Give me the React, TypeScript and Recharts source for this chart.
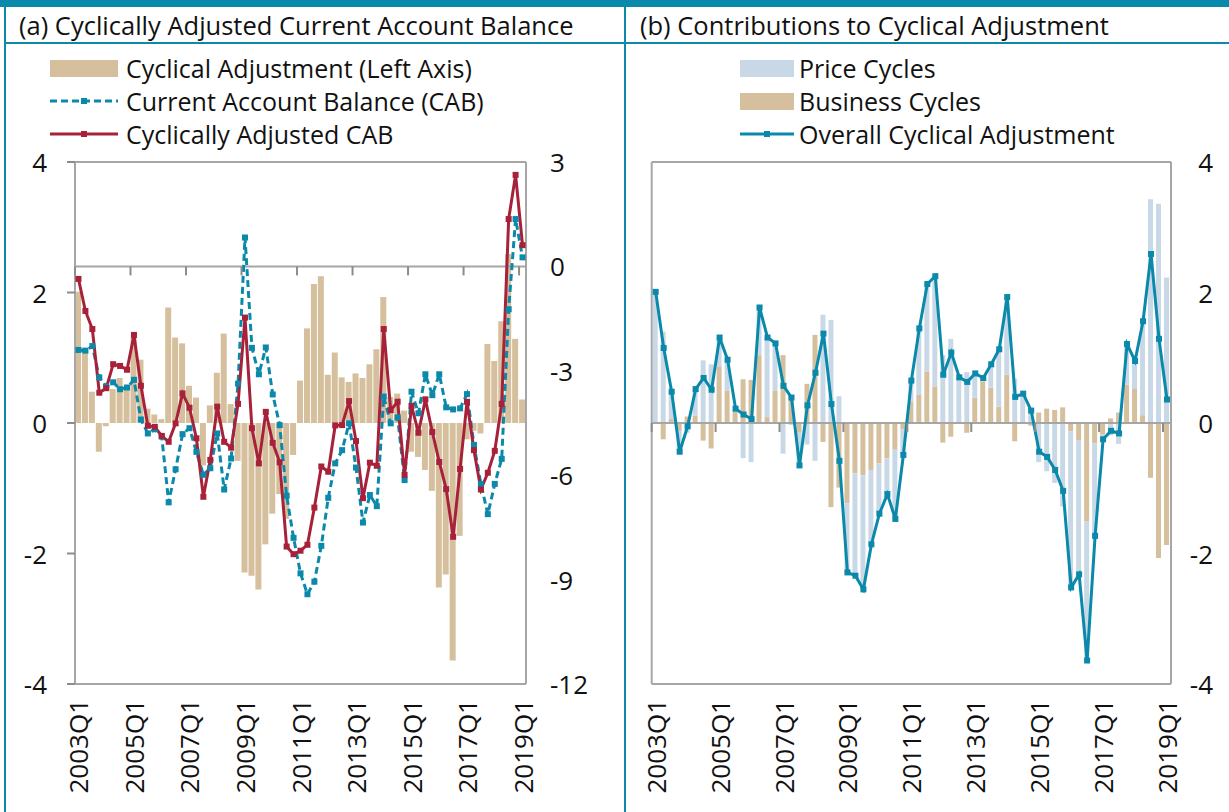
import React from "react";
import { ComposedChart, Bar, Line, XAxis, YAxis, ReferenceLine } from "recharts";

const FONT = "'Open Sans', 'Noto Sans', sans-serif";
const TEAL = "#0A89AA";
const RED = "#A8213A";
const TAN = "#D6BF9D";
const PALE = "#C9D8E7";
const AXIS = "#A6A6A6";
const TICK = "#8C8C8C";
const INK = "#111";

const quarters = Array.from({ length: 65 }, (_, i) => `${2003 + Math.floor(i / 4)}Q${(i % 4) + 1}`);

// overall cyclical adjustment: bars in (a), line in (b)
const cyclicalAdj = [
  2.01, 1.15, 0.48, -0.44, -0.05, 0.52, 0.69, 0.51, 1.31, 0.97,
  0.22, 0.13, 0.06, 1.77, 1.31, 1.22, 0.57, 0.39, -0.65, 0.27,
  0.77, 1.37, 0.29, -0.58, -2.29, -2.34, -2.55, -1.86, -1.39, -1.09,
  -1.47, -0.49, 0.65, 1.45, 2.13, 2.25, 0.74, 1.08, 0.7, 0.63,
  0.76, 0.69, 0.9, 1.13, 1.93, 0.4, 0.45, 0.19, -0.44, -0.52,
  -0.72, -1.04, -2.52, -2.32, -3.64, -1.73, -0.25, -0.12, -0.16, 1.21,
  0.95, 1.56, 2.59, 1.29, 0.36,
];

const currentAccount = [
  -2.4, -2.42, -2.29, -3.19, -3.45, -3.33, -3.53, -3.48, -3.26, -4.4,
  -4.8, -4.68, -4.89, -6.78, -5.83, -4.82, -4.65, -5.33, -5.99, -5.8,
  -4.8, -6.41, -5.52, -3.37, 0.83, -2.34, -3.1, -2.33, -3.68, -4.56,
  -6.59, -7.8, -8.82, -9.42, -9.06, -8.03, -6.65, -5.66, -5.28, -4.51,
  -5.78, -7.36, -6.57, -6.89, -3.74, -4.51, -4.34, -6.14, -3.6, -4.22,
  -3.1, -3.7, -3.1, -4.05, -4.11, -4.08, -3.67, -5.13, -6.25, -7.12,
  -6.25, -5.53, -1.23, 1.36, 0.26,
];

const adjustedCab = [
  -0.36, -1.28, -1.8, -3.63, -3.5, -2.81, -2.86, -2.97, -1.97, -3.43,
  -4.58, -4.61, -4.87, -5.04, -4.51, -3.65, -4.06, -4.94, -6.62, -5.56,
  -4.03, -5.04, -5.21, -3.95, -1.47, -4.65, -5.66, -4.18, -5.07, -5.63,
  -8.05, -8.27, -8.17, -8.0, -6.93, -5.75, -5.9, -4.57, -4.56, -3.87,
  -5.02, -6.66, -5.64, -5.73, -1.8, -4.13, -3.89, -5.99, -4.01, -4.78,
  -3.82, -4.76, -5.62, -6.4, -7.77, -5.82, -3.89, -5.28, -6.41, -5.93,
  -5.3, -3.95, 1.36, 2.63, 0.61,
];

const businessCycles = [
  0.0, -0.25, 0.06, -0.12, 0.1, 0.11, -0.27, -0.39, 0.87, 0.5,
  0.18, 0.67, 0.66, 1.04, 0.09, 0.5, 1.04, 0.42, -0.15, 0.6,
  1.35, -0.29, -1.29, -0.99, -1.23, -0.77, -0.8, -0.72, -0.62, -0.54,
  -0.41, -0.1, 0.33, 0.43, 0.79, 0.56, -0.3, -0.21, 0.0, -0.15,
  0.39, 0.64, 0.54, 0.25, 0.74, -0.28, 0.0, -0.04, 0.16, 0.22,
  0.2, 0.24, -0.13, -0.26, -1.51, -0.31, -0.18, 0.07, 0.16, 0.59,
  0.52, 0.12, -0.84, -2.07, -1.87,
];

const priceCycles = [
  2.01, 1.4, 0.42, -0.32, -0.15, 0.41, 0.96, 0.9, 0.44, 0.47,
  0.04, -0.54, -0.6, 0.73, 1.22, 0.72, -0.47, -0.03, -0.5, -0.33,
  -0.58, 1.66, 1.58, 0.41, -1.06, -1.57, -1.75, -1.14, -0.77, -0.55,
  -1.06, -0.39, 0.32, 1.02, 1.34, 1.69, 1.04, 1.29, 0.7, 0.78,
  0.37, 0.05, 0.36, 0.88, 1.19, 0.68, 0.45, 0.23, -0.6, -0.74,
  -0.92, -1.28, -2.39, -2.06, -2.13, -1.42, -0.07, -0.19, -0.32, 0.62,
  0.43, 1.44, 3.43, 3.36, 2.23,
];

const leftTicksA = [-4, -2, 0, 2, 4];
const rightTicksA = [-12, -9, -6, -3, 0, 3];
const ticksB = [-4, -2, 0, 2, 4];

const dataA = quarters.map((q, i) => ({
  q,
  adj: cyclicalAdj[i],
  cab: currentAccount[i],
  cacab: adjustedCab[i],
}));

const dataB = quarters.map((q, i) => ({
  q,
  business: businessCycles[i],
  price: priceCycles[i],
  overall: cyclicalAdj[i],
}));

const square = (color: string) => (p: any) => (
  <rect key={`d-${p.index}`} x={p.cx - 3} y={p.cy - 3} width={6} height={6} fill={color} />
);

function ValueTick(props: any) {
  const { x, y, payload, anchor } = props;
  return (
    <text x={x} y={y} textAnchor={anchor} dominantBaseline="central" fontSize={26} fill={INK} fontFamily={FONT}>
      {payload.value}
    </text>
  );
}

function QuarterTick(props: any) {
  const { x, y, payload, zeroY } = props;
  const half = payload.offset ?? 3.5;
  return (
    <g>
      <line x1={x - half} x2={x - half} y1={zeroY} y2={zeroY + 9} stroke={TICK} strokeWidth={2} />
      <text
        x={x}
        y={y}
        transform={`rotate(-90 ${x} ${y})`}
        textAnchor="end"
        dominantBaseline="central"
        fontSize={26}
        fill={INK}
        fontFamily={FONT}
      >
        {payload.value}
      </text>
    </g>
  );
}

type Item = { label: string; kind: "bar" | "line"; color: string; dashed?: boolean };

function Legend({ items, left, swatch, gap }: { items: Item[]; left: number; swatch: number; gap: number }) {
  return (
    <>
      {items.map((it, i) => (
        <div
          key={it.label}
          style={{
            position: "absolute",
            left,
            top: 68 + i * 33 - 16,
            height: 32,
            display: "flex",
            alignItems: "center",
            fontSize: 25,
            fontFamily: FONT,
            color: INK,
            whiteSpace: "nowrap",
          }}
        >
          <svg width={swatch} height={32} style={{ marginRight: gap, flexShrink: 0 }}>
            {it.kind === "bar" ? (
              <rect x={0} y={8} width={swatch} height={17} fill={it.color} />
            ) : (
              <>
                <line
                  x1={0}
                  x2={swatch}
                  y1={16}
                  y2={16}
                  stroke={it.color}
                  strokeWidth={3}
                  strokeDasharray={it.dashed ? "7 4" : undefined}
                />
                <rect x={swatch / 2 - 3} y={13} width={6} height={6} fill={it.color} />
              </>
            )}
          </svg>
          {it.label}
        </div>
      ))}
    </>
  );
}

const axisLine = { stroke: AXIS, strokeWidth: 2 };

export default function App() {
  return (
    <div style={{ position: "absolute", left: 0, top: 0, width: 1229, height: 812, background: "#fff", overflow: "hidden" }}>
      {/* frame */}
      <div style={{ position: "absolute", left: 0, top: 0, width: 1229, height: 7, background: TEAL }} />
      <div style={{ position: "absolute", left: 4, top: 0, width: 2, height: 812, background: TEAL }} />
      <div style={{ position: "absolute", left: 624, top: 0, width: 2, height: 812, background: TEAL }} />
      <div style={{ position: "absolute", left: 4, top: 42, width: 1225, height: 2, background: TEAL }} />
      <div style={{ position: "absolute", left: 19, top: 8, height: 34, lineHeight: "34px", fontSize: 25.5, fontFamily: FONT, color: INK, whiteSpace: "nowrap" }}>
        (a) Cyclically Adjusted Current Account Balance
      </div>
      <div style={{ position: "absolute", left: 640, top: 8, height: 34, lineHeight: "34px", fontSize: 25.5, fontFamily: FONT, color: INK, whiteSpace: "nowrap" }}>
        (b) Contributions to Cyclical Adjustment
      </div>

      <Legend
        left={50}
        swatch={68}
        gap={8}
        items={[
          { label: "Cyclical Adjustment (Left Axis)", kind: "bar", color: TAN },
          { label: "Current Account Balance (CAB)", kind: "line", color: TEAL, dashed: true },
          { label: "Cyclically Adjusted CAB", kind: "line", color: RED },
        ]}
      />
      <Legend
        left={740}
        swatch={54}
        gap={5}
        items={[
          { label: "Price Cycles", kind: "bar", color: PALE },
          { label: "Business Cycles", kind: "bar", color: TAN },
          { label: "Overall Cyclical Adjustment", kind: "line", color: TEAL },
        ]}
      />

      {/* panel (a) */}
      <div style={{ position: "absolute", left: 0, top: 50 }}>
        <ComposedChart width={620} height={762} data={dataA} margin={{ top: 112, right: 0, bottom: 0, left: 0 }} barSize={6}>
          <XAxis
            dataKey="q"
            interval={7}
            height={128}
            tickLine={false}
            tickSize={0}
            tickMargin={15}
            axisLine={axisLine}
            tick={<QuarterTick zeroY={216.4} />}
          />
          <YAxis
            yAxisId="left"
            domain={[-4, 4]}
            ticks={leftTicksA}
            width={75}
            tickSize={8}
            tickMargin={20}
            tickLine={{ stroke: TICK, strokeWidth: 2 }}
            axisLine={axisLine}
            tick={<ValueTick anchor="end" />}
            allowDataOverflow
          />
          <YAxis
            yAxisId="right"
            orientation="right"
            domain={[-12, 3]}
            ticks={rightTicksA}
            width={94}
            tickSize={0}
            tickMargin={24}
            tickLine={false}
            axisLine={axisLine}
            tick={<ValueTick anchor="start" />}
            allowDataOverflow
          />
          <ReferenceLine yAxisId="right" y={3} stroke={AXIS} strokeWidth={2} />
          <Bar yAxisId="left" dataKey="adj" fill={TAN} isAnimationActive={false} />
          <ReferenceLine yAxisId="right" y={0} stroke={AXIS} strokeWidth={2} />
          <Line
            yAxisId="right"
            dataKey="cab"
            stroke={TEAL}
            strokeWidth={3}
            strokeDasharray="7 4"
            dot={square(TEAL)}
            activeDot={false}
            isAnimationActive={false}
          />
          <Line
            yAxisId="right"
            dataKey="cacab"
            stroke={RED}
            strokeWidth={3}
            dot={square(RED)}
            activeDot={false}
            isAnimationActive={false}
          />
        </ComposedChart>
      </div>

      {/* panel (b) */}
      <div style={{ position: "absolute", left: 625, top: 50 }}>
        <ComposedChart
          width={604}
          height={762}
          data={dataB}
          margin={{ top: 112, right: 0, bottom: 0, left: 0 }}
          barSize={5}
          stackOffset="sign"
        >
          <XAxis
            dataKey="q"
            interval={7}
            height={128}
            tickLine={false}
            tickSize={0}
            tickMargin={15}
            axisLine={axisLine}
            tick={<QuarterTick zeroY={373} />}
          />
          <YAxis yAxisId="left" domain={[-4, 4]} width={26.7} tick={false} tickLine={false} axisLine={axisLine} />
          <YAxis
            yAxisId="right"
            orientation="right"
            domain={[-4, 4]}
            ticks={ticksB}
            width={58}
            tickSize={0}
            tickMargin={42}
            tickLine={false}
            axisLine={axisLine}
            tick={<ValueTick anchor="end" />}
            allowDataOverflow
          />
          <ReferenceLine yAxisId="right" y={4} stroke={AXIS} strokeWidth={2} />
          <Bar yAxisId="right" dataKey="business" stackId="s" fill={TAN} isAnimationActive={false} />
          <Bar yAxisId="right" dataKey="price" stackId="s" fill={PALE} isAnimationActive={false} />
          <ReferenceLine yAxisId="right" y={0} stroke={AXIS} strokeWidth={2} />
          <Line
            yAxisId="right"
            dataKey="overall"
            stroke={TEAL}
            strokeWidth={3}
            dot={square(TEAL)}
            activeDot={false}
            isAnimationActive={false}
          />
        </ComposedChart>
      </div>
    </div>
  );
}
